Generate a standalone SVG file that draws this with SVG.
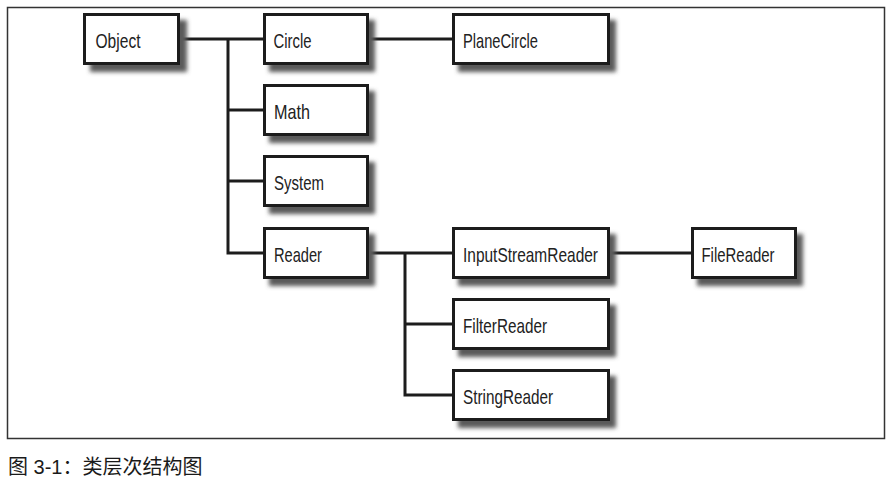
<svg xmlns="http://www.w3.org/2000/svg" width="892" height="485" viewBox="0 0 892 485">
  <defs>
    <filter id="sh" x="-20%" y="-30%" width="140%" height="160%">
      <feGaussianBlur stdDeviation="2.2"/>
    </filter>
  </defs>
  <style>
    .box { fill: #ffffff; stroke: #1c1c1c; stroke-width: 3; }
    .shadow { fill: #5a5a5a; filter: url(#sh); }
    .lbl { font-family: "Liberation Sans", Arial, sans-serif; font-size: 21px; fill: #222222; }
    .conn { fill: none; stroke: #1c1c1c; stroke-width: 3; stroke-linejoin: miter; }
    .frame { fill: #ffffff; stroke: #333333; stroke-width: 1.5; }
    .cap { font-family: "Liberation Sans", "Noto Sans CJK SC", sans-serif; font-size: 20px; fill: #1a1a1a; }
  </style>
  <rect width="892" height="485" fill="#ffffff"/>
  <rect class="frame" x="7.5" y="7.5" width="877" height="431"/>

  <g id="connectors">
    <path class="conn" d="M180 39 H263"/>
    <path class="conn" d="M228 39 V253 H263"/>
    <path class="conn" d="M228 110 H263"/>
    <path class="conn" d="M228 181 H263"/>
    <path class="conn" d="M369 39 H452"/>
    <path class="conn" d="M369 253 H452"/>
    <path class="conn" d="M405 253 V395 H452"/>
    <path class="conn" d="M405 324 H452"/>
    <path class="conn" d="M610 253 H691"/>
  </g>

  <g id="node-object">
    <rect class="shadow" x="90" y="20" width="97" height="52"/>
    <rect class="box" x="84.5" y="14.5" width="94" height="49"/>
    <text class="lbl" x="95.5" y="48" textLength="45" lengthAdjust="spacingAndGlyphs">Object</text>
  </g>
  <g id="node-circle">
    <rect class="shadow" x="269" y="20" width="106" height="52"/>
    <rect class="box" x="264.5" y="14.5" width="103" height="49"/>
    <text class="lbl" x="273.5" y="48" textLength="38" lengthAdjust="spacingAndGlyphs">Circle</text>
  </g>
  <g id="node-planecircle">
    <rect class="shadow" x="458" y="20" width="158" height="52"/>
    <rect class="box" x="453.5" y="14.5" width="155" height="49"/>
    <text class="lbl" x="463" y="48" textLength="75" lengthAdjust="spacingAndGlyphs">PlaneCircle</text>
  </g>
  <g id="node-math">
    <rect class="shadow" x="269" y="91" width="106" height="52"/>
    <rect class="box" x="264.5" y="85.5" width="103" height="49"/>
    <text class="lbl" x="274" y="119" textLength="36" lengthAdjust="spacingAndGlyphs">Math</text>
  </g>
  <g id="node-system">
    <rect class="shadow" x="269" y="162" width="106" height="52"/>
    <rect class="box" x="264.5" y="156.5" width="103" height="49"/>
    <text class="lbl" x="274" y="190" textLength="50" lengthAdjust="spacingAndGlyphs">System</text>
  </g>
  <g id="node-reader">
    <rect class="shadow" x="269" y="234" width="106" height="52"/>
    <rect class="box" x="264.5" y="228.5" width="103" height="49"/>
    <text class="lbl" x="274" y="262" textLength="48" lengthAdjust="spacingAndGlyphs">Reader</text>
  </g>
  <g id="node-inputstreamreader">
    <rect class="shadow" x="458" y="234" width="158" height="52"/>
    <rect class="box" x="453.5" y="228.5" width="155" height="49"/>
    <text class="lbl" x="463" y="262" textLength="135" lengthAdjust="spacingAndGlyphs">InputStreamReader</text>
  </g>
  <g id="node-filereader">
    <rect class="shadow" x="697" y="234" width="106" height="52"/>
    <rect class="box" x="692.5" y="228.5" width="103" height="49"/>
    <text class="lbl" x="701.5" y="262" textLength="73" lengthAdjust="spacingAndGlyphs">FileReader</text>
  </g>
  <g id="node-filterreader">
    <rect class="shadow" x="458" y="305" width="158" height="52"/>
    <rect class="box" x="453.5" y="299.5" width="155" height="49"/>
    <text class="lbl" x="463" y="333" textLength="84" lengthAdjust="spacingAndGlyphs">FilterReader</text>
  </g>
  <g id="node-stringreader">
    <rect class="shadow" x="458" y="376" width="158" height="52"/>
    <rect class="box" x="453.5" y="370.5" width="155" height="49"/>
    <text class="lbl" x="463" y="404" textLength="90" lengthAdjust="spacingAndGlyphs">StringReader</text>
  </g>

  <text class="cap" x="8" y="474">图 3-1：类层次结构图</text>
</svg>
